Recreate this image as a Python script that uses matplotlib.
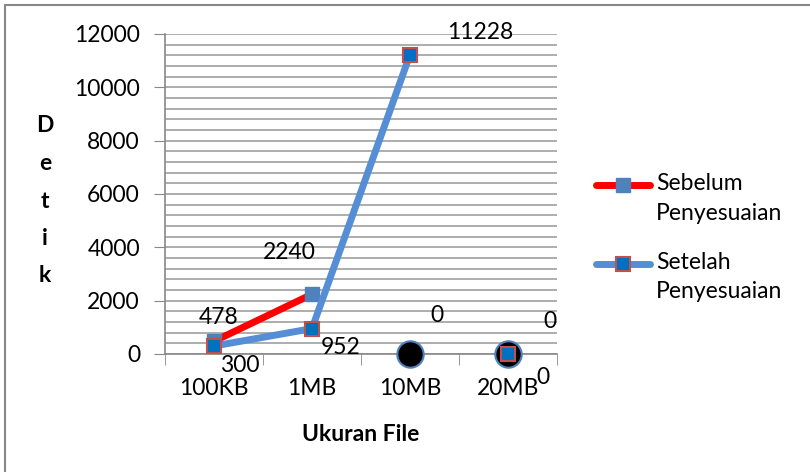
import matplotlib
matplotlib.use("Agg")
import matplotlib.pyplot as plt
from matplotlib.patches import Rectangle
from matplotlib.lines import Line2D
from matplotlib.ticker import MultipleLocator

plt.rcParams['font.family'] = ['Lato', 'DejaVu Sans']

categories = ["100KB", "1MB", "10MB", "20MB"]
sebelum = [478, 2240, 0, 0]
setelah = [300, 952, 11228, 0]
series_names = ["Sebelum\nPenyesuaian", "Setelah\nPenyesuaian"]

RED = "#ff0000"
LBLUE = "#558ed5"
MBLUE = "#4f81bd"
DBLUE = "#0070c0"
REDEDGE = "#c0504d"
GRID = "#a0a0a0"

W, H = 810, 472
fig = plt.figure(figsize=(W/100, H/100), dpi=100)
ax = fig.add_axes([165/W, 1-354/H, 392/W, 320/H])
x = list(range(len(categories)))

# Sebelum: connected only for first two categories
ax.plot(x[:2], sebelum[:2], color=RED, lw=5, solid_capstyle='round', zorder=3,
        marker='s', ms=10, mfc=MBLUE, mec=MBLUE, clip_on=False)
ax.plot(x[2:], sebelum[2:], ls='none', marker='o', ms=19, mfc='black',
        mec=MBLUE, mew=1.5, zorder=4, clip_on=False)
# Setelah: connected for first three
ax.plot(x[:3], setelah[:3], color=LBLUE, lw=5, solid_capstyle='round', zorder=5,
        marker='s', ms=10, mfc=DBLUE, mec=REDEDGE, mew=1.5, clip_on=False)
ax.plot(x[3:], setelah[3:], ls='none', marker='s', ms=10, mfc=DBLUE,
        mec=REDEDGE, mew=1.5, zorder=6, clip_on=False)

# data labels
fs = 16.5
seb_off = [(5, 24), (-23, 42), (27, 39), (42, 32)]
set_off = [(26, -19), (29, -19), (70, 22), (35, -24)]
for i, v in enumerate(sebelum):
    ax.annotate(str(v), (x[i], v), xytext=seb_off[i], textcoords='offset pixels',
                ha='center', va='center', fontsize=fs, zorder=10, annotation_clip=False)
for i, v in enumerate(setelah):
    ax.annotate(str(v), (x[i], v), xytext=set_off[i], textcoords='offset pixels',
                ha='center', va='center', fontsize=fs, zorder=10, annotation_clip=False)

ax.set_xlim(-0.5, 3.5)
ax.set_ylim(0, 12000)
ax.yaxis.set_major_locator(MultipleLocator(2000))
ax.yaxis.set_minor_locator(MultipleLocator(400))
ax.set_xticks([i - 0.5 for i in range(len(categories) + 1)], minor=True)
ax.set_xticks(x)
ax.set_xticklabels(categories, fontsize=fs)
ax.tick_params(axis='x', which='major', length=0, pad=17)
ax.tick_params(axis='x', which='minor', length=8, color='#888888', direction='out')
ax.tick_params(axis='y', which='major', length=8, color='#888888', labelsize=fs, pad=10)
ax.tick_params(axis='y', which='minor', length=0)
ax.grid(True, axis='y', which='both', color=GRID, lw=1.2, zorder=0)
for s in ['top', 'right']:
    ax.spines[s].set_visible(False)
for s in ['left', 'bottom']:
    ax.spines[s].set_color('#888888')
    ax.spines[s].set_linewidth(1.2)

ax.set_xlabel("Ukuran File", fontsize=16.5, fontweight='bold', labelpad=18)
for i, ch in enumerate("Detik"):
    fig.text(45/W, 1 - (126 + i * 37.5)/H, ch, fontsize=16.5, fontweight='bold',
             ha='center', va='center')

# legend (drawn manually so the key aligns with the first text line)
styles = [
    dict(color=RED, mfc=MBLUE, mec=MBLUE, mew=1.0),
    dict(color=LBLUE, mfc=DBLUE, mec=REDEDGE, mew=1.5),
]
rows = [185, 264]
for name, st, yrow in zip(series_names, styles, rows):
    fig.add_artist(Line2D([596/W, 650/W], [1 - yrow/H] * 2, transform=fig.transFigure,
                          lw=5, solid_capstyle='round', color=st['color']))
    fig.add_artist(Line2D([623/W], [1 - yrow/H], transform=fig.transFigure,
                          marker='s', ms=10, mfc=st['mfc'], mec=st['mec'], mew=st['mew']))
    fig.text(656/W, 1 - (yrow - 12)/H, name, fontsize=fs, ha='left', va='top',
             linespacing=1.5)

fig.add_artist(Rectangle((5/W, -0.1), 2.0, 1 - 5/H + 0.1, transform=fig.transFigure,
                         fill=False, edgecolor='#888888', lw=1.5, clip_on=False))

fig.savefig("out.png", dpi=100)
